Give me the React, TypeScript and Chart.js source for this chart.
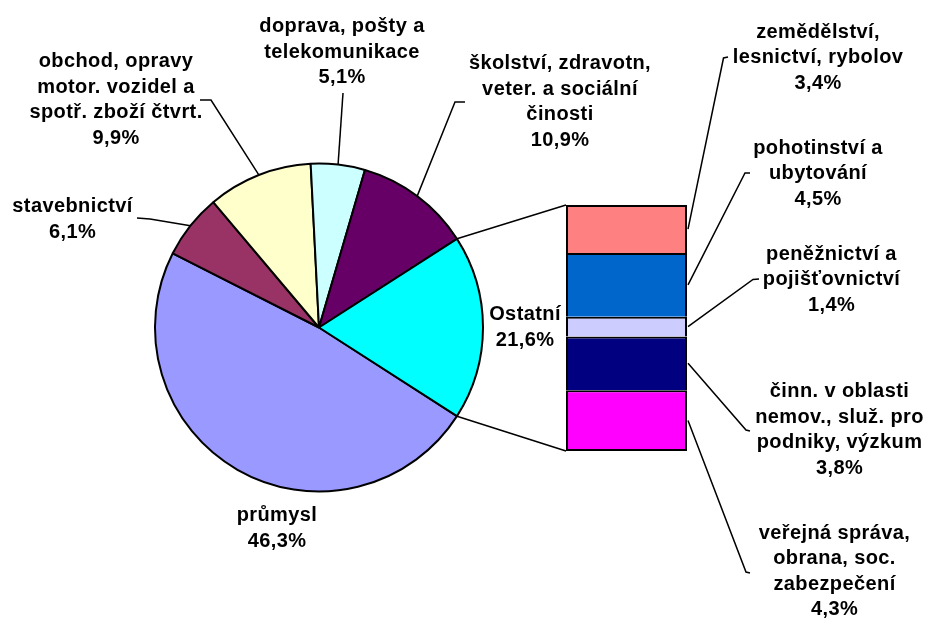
import React, { useEffect, useRef } from 'react';
import { Chart, registerables } from 'chart.js';

Chart.register(...registerables);

// ---- data ----
const pieCategories: string[][] = [
  ['průmysl'],
  ['stavebnictví'],
  ['obchod, opravy', 'motor. vozidel a', 'spotř. zboží čtvrt.'],
  ['doprava, pošty a', 'telekomunikace'],
  ['školství, zdravotn,', 'veter. a sociální', 'činosti'],
  ['Ostatní'],
];
const pieValues: number[] = [46.3, 6.1, 9.9, 5.1, 10.9];
const otherShareLabel = 21.6;
const pieColors: string[] = ['#9999FF', '#993366', '#FFFFCC', '#CCFFFF', '#660066', '#00FFFF'];

const barCategories: string[][] = [
  ['zemědělství,', 'lesnictví, rybolov'],
  ['pohotinství a', 'ubytování'],
  ['peněžnictví a', 'pojišťovnictví'],
  ['činn. v oblasti', 'nemov., služ. pro', 'podniky, výzkum'],
  ['veřejná správa,', 'obrana, soc.', 'zabezpečení'],
];
const barValues: number[] = [3.4, 4.5, 1.4, 3.8, 4.3];
const barColors: string[] = ['#FF8080', '#0066CC', '#CCCCFF', '#000080', '#FF00FF'];

// ---- layout (label positions, leader elbows) ----
type Pos = { x: number; y: number; path?: number[][] };
const pieLabelPos: Pos[] = [
  { x: 277, y: 521 },
  { x: 72.5, y: 212, path: [[150, 219], [137, 218]] },
  { x: 116, y: 67, path: [[211, 100], [200, 100]] },
  { x: 342, y: 32, path: [[343, 93]] },
  { x: 560, y: 69, path: [[455, 102], [465, 102]] },
  { x: 525, y: 320 },
];
const barLabelPos: Pos[] = [
  { x: 818, y: 37.5, path: [[723.5, 58], [728, 57]] },
  { x: 818, y: 153.5, path: [[745, 173], [750, 173]] },
  { x: 831.5, y: 259.5, path: [[753, 279.5], [759, 279]] },
  { x: 839.5, y: 397, path: [[746, 430], [750, 431]] },
  { x: 834.5, y: 538.5, path: [[746, 572], [750, 573]] },
];
const LINE_H = 25.6;
const FONT = 'bold 20px "Liberation Sans", Arial, sans-serif';

const fmt = (v: number) => v.toFixed(1).replace('.', ',') + '%';

function drawLabel(ctx: CanvasRenderingContext2D, lines: string[], pos: Pos) {
  lines.forEach((t, i) => ctx.fillText(t, pos.x, pos.y + i * LINE_H));
}

function drawPath(ctx: CanvasRenderingContext2D, sx: number, sy: number, path?: number[][]) {
  if (!path) return;
  ctx.beginPath();
  ctx.moveTo(sx, sy);
  path.forEach(([x, y]) => ctx.lineTo(x, y));
  ctx.stroke();
}

export default function App() {
  const pieRef = useRef<HTMLCanvasElement>(null);
  const barRef = useRef<HTMLCanvasElement>(null);

  useEffect(() => {
    const otherTotal = barValues.reduce((a, b) => a + b, 0);
    const allValues = [...pieValues, otherTotal];
    const total = allValues.reduce((a, b) => a + b, 0);
    const rotation = 90 + (otherTotal / total) * 180;

    const pie = new Chart(pieRef.current!, {
      type: 'pie',
      data: {
        labels: pieCategories.map((l) => l.join(' ')),
        datasets: [
          {
            data: allValues,
            backgroundColor: pieColors,
            borderColor: '#000000',
            borderWidth: 2,
          },
        ],
      },
      options: {
        responsive: false,
        animation: false,
        rotation,
        radius: 164,
        layout: { padding: { left: 0, right: 288, top: 37, bottom: 0 } },
        plugins: { legend: { display: false }, tooltip: { enabled: false } },
      } as any,
    });

    const overlay = {
      id: 'overlay',
      afterDraw(chart: any) {
        const ctx: CanvasRenderingContext2D = chart.ctx;
        ctx.save();
        ctx.strokeStyle = '#000000';
        ctx.lineWidth = 1.5;
        ctx.fillStyle = '#000000';
        ctx.font = FONT;
        (ctx as any).letterSpacing = '0.4px';
        ctx.textAlign = 'center';
        ctx.textBaseline = 'alphabetic';

        const area = chart.chartArea;
        const arcs = pie.getDatasetMeta(0).data;
        arcs.forEach((el: any, i: number) => {
          const p = el.getProps(['x', 'y', 'startAngle', 'endAngle', 'outerRadius'], true);
          const mid = (p.startAngle + p.endAngle) / 2;
          const sx = p.x + p.outerRadius * Math.cos(mid);
          const sy = p.y + p.outerRadius * Math.sin(mid);
          drawPath(ctx, sx, sy, pieLabelPos[i].path);
          const val = i === pieValues.length ? otherShareLabel : pieValues[i];
          drawLabel(ctx, [...pieCategories[i], fmt(val)], pieLabelPos[i]);
          if (i === pieValues.length) {
            ctx.beginPath();
            ctx.moveTo(p.x + p.outerRadius * Math.cos(p.startAngle), p.y + p.outerRadius * Math.sin(p.startAngle));
            ctx.lineTo(area.left, area.top);
            ctx.moveTo(p.x + p.outerRadius * Math.cos(p.endAngle), p.y + p.outerRadius * Math.sin(p.endAngle));
            ctx.lineTo(area.left, area.bottom);
            ctx.stroke();
          }
        });

        barValues.forEach((v, i) => {
          const el: any = chart.getDatasetMeta(i).data[0];
          const b = el.getProps(['x', 'y', 'base', 'width'], true);
          const sx = b.x + b.width / 2 + 1;
          const sy = (b.y + b.base) / 2;
          drawPath(ctx, sx, sy, barLabelPos[i].path);
          drawLabel(ctx, [...barCategories[i], fmt(v)], barLabelPos[i]);
        });
        ctx.restore();
      },
    };

    const bar = new Chart(barRef.current!, {
      type: 'bar',
      data: {
        labels: ['Ostatní'],
        datasets: barValues.map((v, i) => ({
          label: barCategories[i].join(' '),
          data: [v],
          backgroundColor: barColors[i],
          borderColor: '#000000',
          borderWidth: { top: 2, left: 2, right: 2, bottom: i === barValues.length - 1 ? 2 : 0 },
          borderSkipped: false,
          inflateAmount: 0,
          barPercentage: 1,
          categoryPercentage: 1,
        })),
      },
      options: {
        responsive: false,
        animation: false,
        layout: { padding: { left: 566, right: 239, top: 205, bottom: 167 } },
        scales: {
          x: { display: false, stacked: true },
          y: { display: false, stacked: true, reverse: true, min: 0, max: otherTotal },
        },
        plugins: { legend: { display: false }, tooltip: { enabled: false } },
      } as any,
      plugins: [overlay as any],
    });

    return () => {
      bar.destroy();
      pie.destroy();
    };
  }, []);

  return (
    <div style={{ position: 'fixed', left: 0, top: 0, width: 926, height: 618, background: '#ffffff' }}>
      <canvas ref={pieRef} width={926} height={618} style={{ position: 'absolute', left: 0, top: 0 }} />
      <canvas ref={barRef} width={926} height={618} style={{ position: 'absolute', left: 0, top: 0 }} />
    </div>
  );
}
